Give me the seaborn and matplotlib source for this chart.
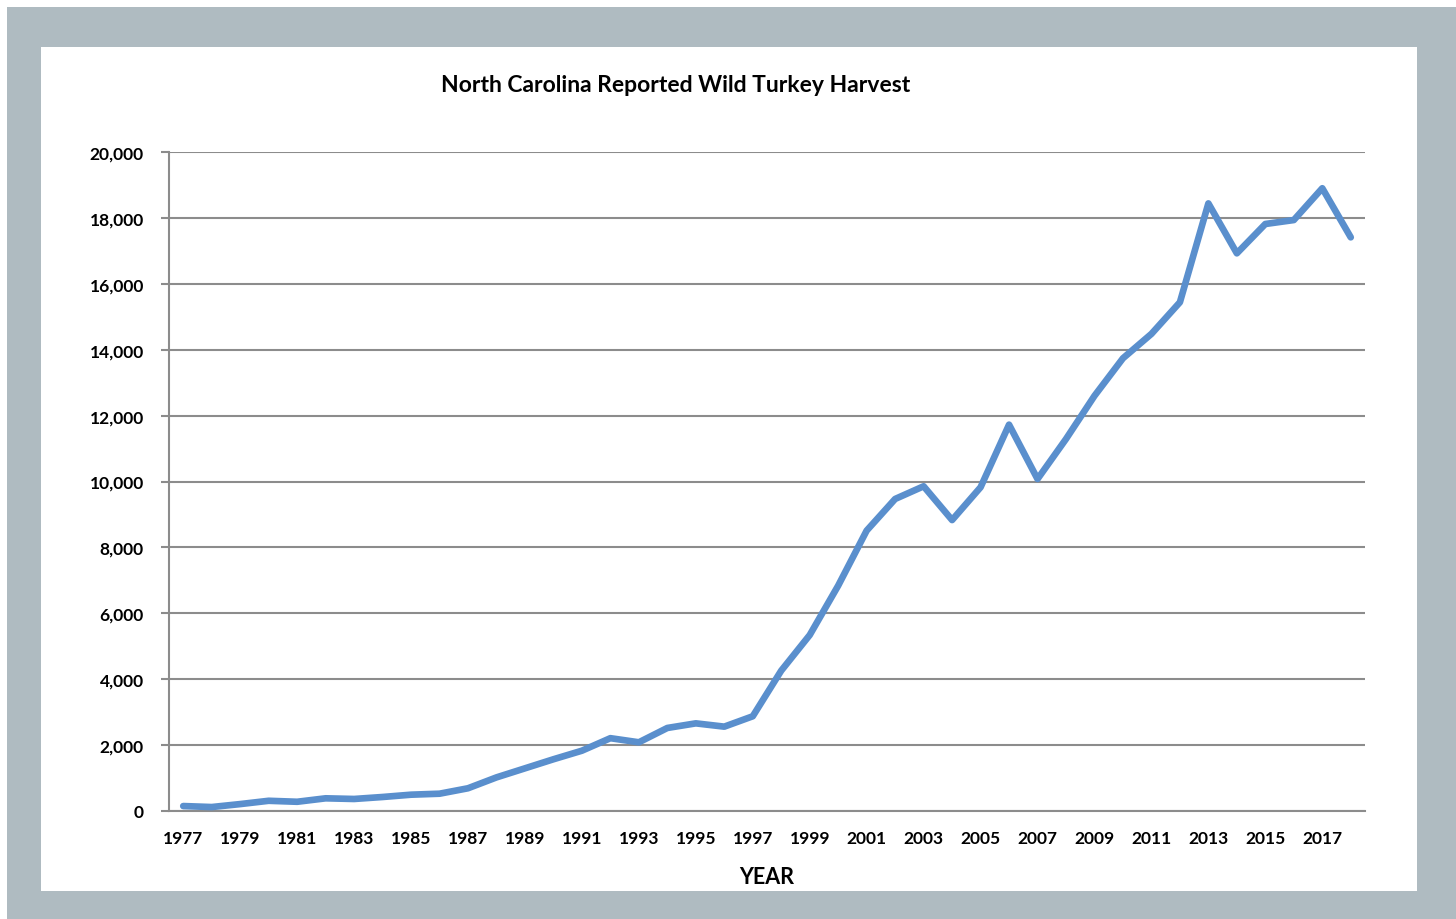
import matplotlib
matplotlib.use('Agg')
import matplotlib.pyplot as plt
import matplotlib.patches as patches
from matplotlib.ticker import FuncFormatter, FixedLocator
import seaborn as sns
import pandas as pd

# Reported harvest, 1977-2018
years = list(range(1977, 2019))
harvest = [150, 120, 210, 310, 280, 385, 365, 425, 495, 525,
           690, 1020, 1295, 1570, 1830, 2210, 2085, 2520, 2660, 2560,
           2875, 4260, 5340, 6840, 8510, 9470, 9855, 8830, 9825, 11725,
           10075, 11290, 12600, 13740, 14480, 15440, 18440, 16925, 17815, 17935,
           18900, 17410]
year_labels = [str(y) for y in range(1977, 2018, 2)]
y_ticks = list(range(0, 20001, 2000))

df = pd.DataFrame({'year': years, 'harvest': harvest})

sns.set_style('white')
plt.rcParams['font.family'] = ['Lato', 'DejaVu Sans']
plt.rcParams['text.color'] = 'black'
plt.rcParams['xtick.labelcolor'] = 'black'
plt.rcParams['ytick.labelcolor'] = 'black'
plt.rcParams['axes.labelcolor'] = 'black'

W, H = 1456, 920
fig = plt.figure(figsize=(W / 100, H / 100), dpi=100)
fig.patch.set_facecolor('white')

# gray frame and white panel (behind the axes)
fig.patches.append(patches.Rectangle((7 / W, 0), 1 - 7 / W, 1 - 8 / H,
                                     transform=fig.transFigure, facecolor='#afbbc1',
                                     edgecolor='none', zorder=-2))
fig.patches.append(patches.Rectangle((41 / W, 1 - 892 / H), (1417 - 41) / W, (892 - 48) / H,
                                     transform=fig.transFigure, facecolor='white',
                                     edgecolor='none', zorder=-1))

ax = fig.add_axes([169 / W, 1 - 812 / H, (1365 - 169) / W, (812 - 153) / H])
ax.set_facecolor('none')

sns.lineplot(data=df, x='year', y='harvest', ax=ax, color='#5a8fcd', linewidth=4.8,
             solid_capstyle='round', solid_joinstyle='round', zorder=3)

ax.set_xlim(1976.5, 2018.5)
ax.set_ylim(0, 20000)

ax.set_yticks(y_ticks)
ax.yaxis.set_major_formatter(FuncFormatter(lambda v, p: f'{int(v):,}'))
ax.grid(axis='y', color='#8c8c8c', linewidth=1.5, zorder=1)
ax.set_axisbelow(True)

ax.xaxis.set_major_locator(FixedLocator(list(range(1977, 2018, 2))))
ax.set_xticklabels(year_labels)
ax.xaxis.set_minor_locator(FixedLocator([y + 0.5 for y in range(1976, 2019)]))
ax.tick_params(axis='x', which='major', length=0, pad=14, labelsize=12.5)
ax.tick_params(axis='x', which='minor', length=6, width=1.5, color='#8c8c8c', direction='out')
ax.tick_params(axis='y', which='major', length=6, width=1.5, color='#8c8c8c',
               direction='out', pad=12, labelsize=12.5, left=True)
for lab in ax.get_xticklabels() + ax.get_yticklabels():
    lab.set_fontweight('bold')

for side in ['top', 'right']:
    ax.spines[side].set_visible(False)
for side in ['left', 'bottom']:
    ax.spines[side].set_color('#8c8c8c')
    ax.spines[side].set_linewidth(1.5)

ax.set_xlabel('YEAR', fontsize=15.5, fontweight='bold', labelpad=14)
ax.set_ylabel('')

fig.text(676 / W, 1 - 86 / H, 'North Carolina Reported Wild Turkey Harvest',
         ha='center', va='center', fontsize=16.5, fontweight='bold')

fig.savefig('out.png', dpi=100, facecolor=fig.get_facecolor())
